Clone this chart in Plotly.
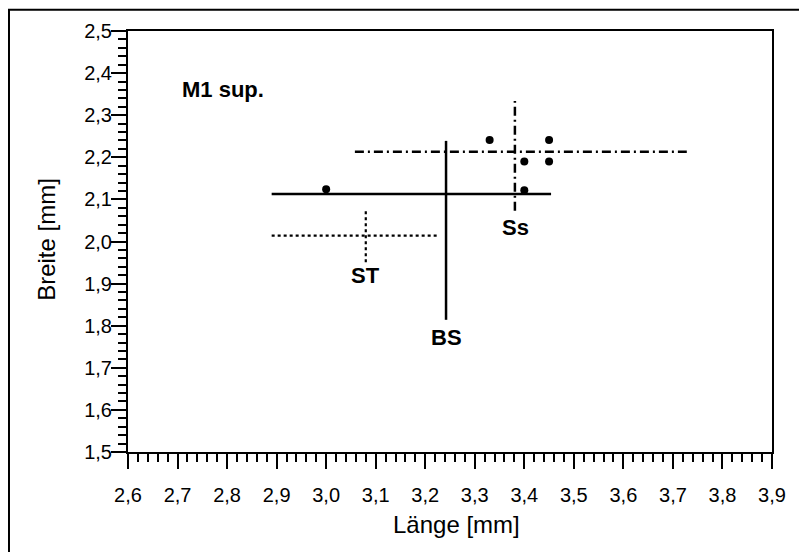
import plotly.graph_objects as go

# --- data ---
groups = ["ST", "BS", "Ss"]
x_min = [2.890, 2.890, 3.058]
x_max = [3.224, 3.454, 3.728]
x_mean = [3.080, 3.242, 3.381]
y_min = [1.951, 1.814, 2.073]
y_max = [2.077, 2.239, 2.334]
y_mean = [2.014, 2.113, 2.213]
label_x = [3.080, 3.242, 3.383]
label_y = [1.920, 1.771, 2.034]

pts_x = [3.00, 3.33, 3.45, 3.40, 3.45, 3.40]
pts_y = [2.124, 2.241, 2.241, 2.190, 2.190, 2.122]

x_ticks = [2.6, 2.7, 2.8, 2.9, 3.0, 3.1, 3.2, 3.3, 3.4, 3.5, 3.6, 3.7, 3.8, 3.9]
y_ticks = [1.5, 1.6, 1.7, 1.8, 1.9, 2.0, 2.1, 2.2, 2.3, 2.4, 2.5]

styles = {"ST": dict(dash="dot", width=2.2),
          "BS": dict(dash="solid", width=2.5),
          "Ss": dict(dash="9px,4px,2px,4px", width=2.5)}

FONT = "Liberation Sans, Arial, sans-serif"

fig = go.Figure()
for i, g in enumerate(groups):
    st = styles[g]
    fig.add_trace(go.Scatter(x=[x_min[i], x_max[i]], y=[y_mean[i], y_mean[i]],
                             mode="lines", line=dict(color="black", **st),
                             showlegend=False, hoverinfo="skip"))
    fig.add_trace(go.Scatter(x=[x_mean[i], x_mean[i]], y=[y_min[i], y_max[i]],
                             mode="lines", line=dict(color="black", **st),
                             showlegend=False, hoverinfo="skip"))

fig.add_trace(go.Scatter(x=pts_x, y=pts_y, mode="markers",
                         marker=dict(color="black", size=8),
                         showlegend=False))

for i, g in enumerate(groups):
    fig.add_annotation(x=label_x[i], y=label_y[i], text="<b>%s</b>" % g,
                       showarrow=False, font=dict(family=FONT, size=22, color="black"))

fig.add_annotation(x=2.704, y=2.36, text="<b>M1 sup.</b>", xanchor="left",
                   showarrow=False, font=dict(family=FONT, size=22, color="black"))

# axis titles
fig.add_annotation(xref="paper", yref="paper", x=0.51, y=-0.172, text="Länge [mm]",
                   showarrow=False, yanchor="middle",
                   font=dict(family=FONT, size=24, color="black"))
fig.add_annotation(xref="paper", yref="paper", x=-0.126, y=0.506, text="Breite [mm]",
                   showarrow=False, textangle=-90, xanchor="center", yanchor="middle",
                   font=dict(family=FONT, size=24, color="black"))

# outer frame
fig.add_shape(type="rect", xref="paper", yref="paper",
              x0=-0.1848, x1=1.0466, y0=-0.35, y1=1.0505,
              line=dict(color="black", width=2), layer="above")

axis_common = dict(showgrid=False, zeroline=False, showline=True, mirror=True,
                   linecolor="black", linewidth=2, ticks="outside", tickwidth=2,
                   tickcolor="black", ticklen=15, tickformat=".1f",
                   tickfont=dict(family=FONT, size=20, color="black"))

fig.update_xaxes(range=[2.6, 3.9], tickvals=x_ticks, ticklabelstandoff=9,
                 minor=dict(dtick=0.02, tick0=2.6, ticks="outside", ticklen=8,
                            tickwidth=2, tickcolor="black"),
                 **axis_common)
fig.update_yaxes(range=[1.5, 2.5], tickvals=y_ticks, ticklabelstandoff=-5,
                 minor=dict(dtick=0.02, tick0=1.5, ticks="outside", ticklen=8,
                            tickwidth=2, tickcolor="black"),
                 **axis_common)

fig.update_layout(width=799, height=544, separators=",.",
                  margin=dict(l=120, r=35, t=23, b=100, autoexpand=False),
                  plot_bgcolor="white", paper_bgcolor="white",
                  font=dict(family=FONT, color="black"))

fig.write_html("out.html")
